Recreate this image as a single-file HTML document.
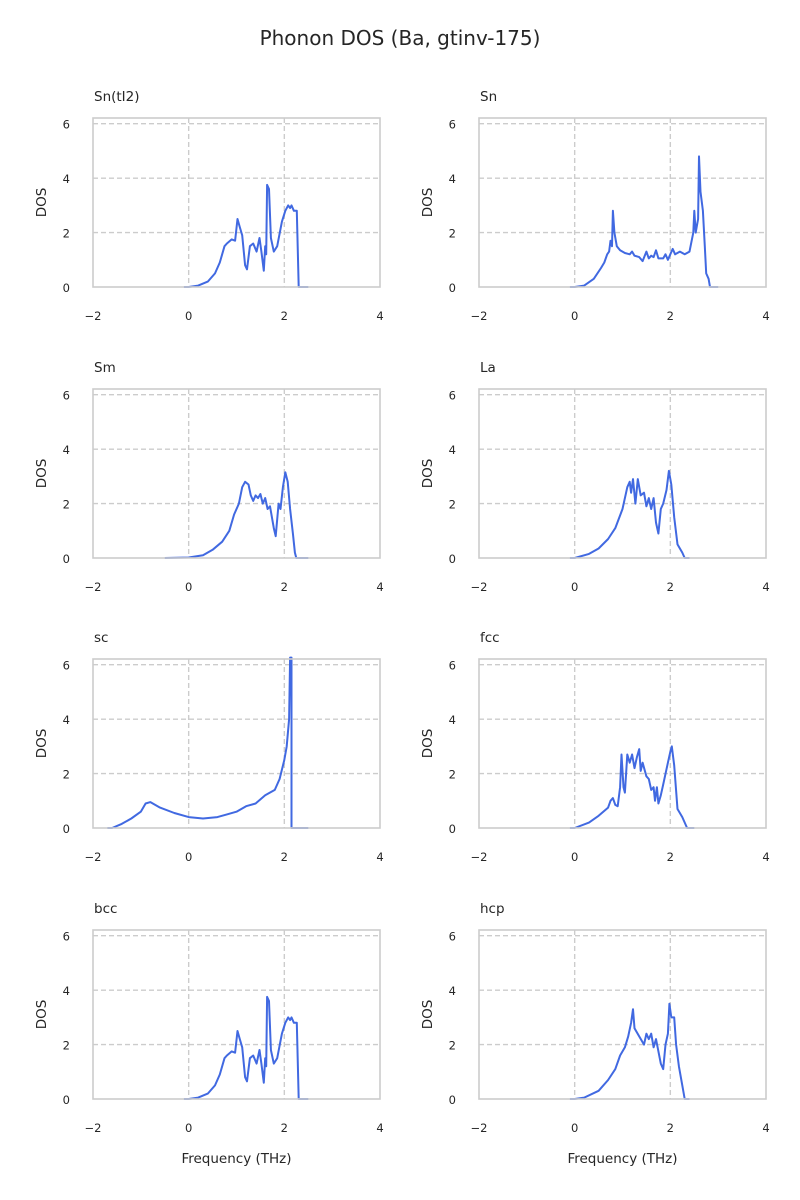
<!DOCTYPE html>
<html><head><meta charset="utf-8"><style>
body{margin:0;background:#fff;}
svg{display:block;font-family:"DejaVu Sans","Liberation Sans",sans-serif;}
</style></head><body>
<svg id="fig" width="800" height="1200" viewBox="0 0 800 1200" xmlns="http://www.w3.org/2000/svg">
<text x="400" y="45" text-anchor="middle" font-size="20" fill="#262626">Phonon DOS (Ba, gtinv-175)</text>
</svg>
<script>
const panelNames=["Sn(tI2)","Sn","Sm","La","sc","fcc","bcc","hcp"];
const xTicks=[-2,0,2,4];
const yTicks=[0,2,4,6];
const freqSnTI2=[-0.1,0,0.2,0.4,0.55,0.65,0.75,0.8,0.9,0.97,1.02,1.07,1.12,1.18,1.22,1.28,1.35,1.42,1.48,1.52,1.57,1.6,1.62,1.64,1.68,1.72,1.78,1.85,1.95,2.02,2.08,2.12,2.15,2.2,2.26,2.3,2.5];
const dosSnTI2=[0,0,0.05,0.2,0.5,0.9,1.5,1.6,1.75,1.7,2.5,2.2,1.9,0.8,0.65,1.5,1.6,1.3,1.8,1.3,0.6,1.5,1.2,3.75,3.6,1.8,1.3,1.5,2.4,2.8,3.0,2.9,3.0,2.8,2.8,0,0];
const freqSn=[-0.1,0,0.2,0.4,0.55,0.62,0.68,0.72,0.75,0.78,0.8,0.83,0.88,0.95,1.05,1.15,1.2,1.25,1.35,1.42,1.5,1.55,1.6,1.65,1.7,1.75,1.85,1.9,1.95,2.05,2.1,2.2,2.3,2.4,2.48,2.5,2.53,2.58,2.6,2.63,2.68,2.72,2.75,2.8,2.83,3.0];
const dosSn=[0,0,0.05,0.3,0.7,0.9,1.2,1.3,1.7,1.5,2.8,2.0,1.5,1.35,1.25,1.2,1.3,1.15,1.1,0.95,1.3,1.05,1.15,1.1,1.35,1.05,1.05,1.2,1.0,1.4,1.2,1.3,1.2,1.3,2.0,2.8,2.0,2.5,4.8,3.5,2.8,1.5,0.5,0.3,0,0];
const freqSm=[-0.5,0,0.3,0.5,0.7,0.85,0.95,1.05,1.12,1.18,1.25,1.3,1.35,1.4,1.45,1.5,1.55,1.6,1.65,1.7,1.78,1.82,1.88,1.92,1.97,2.02,2.07,2.12,2.18,2.22,2.25,2.5];
const dosSm=[0,0.02,0.1,0.3,0.6,1.0,1.6,2.0,2.6,2.8,2.7,2.3,2.1,2.3,2.2,2.35,2.0,2.2,1.8,1.9,1.1,0.8,2.0,1.8,2.6,3.15,2.8,1.8,0.9,0.2,0,0];
const freqLa=[-0.1,0,0.3,0.5,0.7,0.85,1.0,1.1,1.15,1.18,1.22,1.27,1.32,1.38,1.45,1.5,1.55,1.6,1.65,1.7,1.75,1.8,1.85,1.92,1.97,2.02,2.08,2.15,2.25,2.3,2.4];
const dosLa=[0,0,0.15,0.35,0.7,1.1,1.8,2.6,2.8,2.4,2.9,2.0,2.9,2.3,2.4,1.9,2.2,1.8,2.2,1.3,0.9,1.8,2.0,2.5,3.2,2.7,1.5,0.5,0.2,0,0];
const freqSc=[-1.7,-1.6,-1.4,-1.2,-1.0,-0.9,-0.8,-0.6,-0.3,0,0.3,0.6,0.8,1.0,1.2,1.4,1.6,1.8,1.9,2.0,2.05,2.1,2.12,2.15,2.15,2.5];
const dosSc=[0,0,0.15,0.35,0.6,0.9,0.95,0.75,0.55,0.4,0.35,0.4,0.5,0.6,0.8,0.9,1.2,1.4,1.8,2.5,3.0,4.0,6.3,6.3,0,0];
const freqFcc=[-0.1,0,0.3,0.5,0.7,0.75,0.8,0.85,0.9,0.95,0.98,1.02,1.05,1.1,1.15,1.2,1.25,1.3,1.35,1.38,1.42,1.5,1.55,1.6,1.65,1.68,1.72,1.75,1.8,1.85,1.95,2.0,2.03,2.08,2.15,2.25,2.35,2.5];
const dosFcc=[0,0,0.2,0.45,0.75,1.0,1.1,0.85,0.8,1.5,2.7,1.5,1.3,2.7,2.4,2.7,2.2,2.6,2.9,2.1,2.4,1.9,1.8,1.4,1.5,1.0,1.5,0.9,1.2,1.6,2.4,2.8,3.0,2.3,0.7,0.4,0,0];
const freqHcp=[-0.1,0,0.2,0.5,0.7,0.85,0.95,1.05,1.12,1.18,1.22,1.25,1.35,1.45,1.5,1.55,1.6,1.65,1.7,1.8,1.85,1.9,1.95,1.98,2.02,2.08,2.12,2.18,2.25,2.3,2.4];
const dosHcp=[0,0,0.05,0.3,0.7,1.1,1.6,1.9,2.3,2.8,3.3,2.6,2.3,2.0,2.4,2.2,2.4,1.9,2.2,1.3,1.1,2.0,2.4,3.5,3.0,3.0,2.0,1.2,0.5,0,0];
const panelFreqs=[freqSnTI2,freqSn,freqSm,freqLa,freqSc,freqFcc,freqSnTI2,freqHcp];
const panelDos=[dosSnTI2,dosSn,dosSm,dosLa,dosSc,dosFcc,dosSnTI2,dosHcp];

const NS="http://www.w3.org/2000/svg";
const svg=document.getElementById('fig');
function mk(tag,attrs,parent){const e=document.createElementNS(NS,tag);for(const k in attrs)e.setAttribute(k,attrs[k]);(parent||svg).appendChild(e);return e;}
const colX=[93,479], rowY=[118,389,659,930], W=287, H=169;
const xMin=-2,xMax=4,yMin=0,yMax=6.21;
panelNames.forEach((name,i)=>{
  const px=colX[i%2], py=rowY[Math.floor(i/2)];
  const sx=v=>px+(v-xMin)/(xMax-xMin)*W;
  const sy=v=>py+H-(v-yMin)/(yMax-yMin)*H;
  const g=mk('g',{});
  
  
  xTicks.forEach(t=>{ if(t>xMin&&t<xMax){const l=mk('line',{x1:sx(t),x2:sx(t),y1:py,y2:py+H,stroke:'#cccccc','stroke-width':1.4,'stroke-dasharray':'5,3'},g);}});
  yTicks.forEach(t=>{ if(t>yMin){const l=mk('line',{x1:px,x2:px+W,y1:sy(t),y2:sy(t),stroke:'#cccccc','stroke-width':1.4,'stroke-dasharray':'5,3'},g);}});
  const f=panelFreqs[i], d=panelDos[i];
  const pts=f.map((v,k)=>sx(v).toFixed(1)+','+sy(Math.min(d[k],yMax+0.05)).toFixed(1)).join(' ');
  const line=mk('polyline',{points:pts,fill:'none',stroke:'#4169e1','stroke-width':2,'stroke-linejoin':'round'},g);
  
  
  const fr=mk('rect',{x:px,y:py,width:W,height:H,fill:'none',stroke:'#cccccc','stroke-width':1.6},g);
  
  
  xTicks.forEach(t=>{const tx=mk('text',{x:sx(t),y:py+H+33,'text-anchor':'middle','font-size':11.5,fill:'#262626'},g);tx.textContent=(t<0?'\u2212'+(-t):t);});
  yTicks.forEach(t=>{const tx=mk('text',{x:px-23,y:sy(t)+5,'text-anchor':'end','font-size':11.5,fill:'#262626'},g);tx.textContent=t;});
  const yl=mk('text',{x:0,y:0,transform:`translate(${px-47},${py+H/2}) rotate(-90)`,'text-anchor':'middle','font-size':13.5,fill:'#262626'},g);
  yl.textContent='DOS';
  
  
  const tt=mk('text',{x:px+1,y:py-17,'font-size':13.5,fill:'#262626'},g);
  tt.textContent=name;
  
  
  if(i>=6){const xl=mk('text',{x:px+W/2,y:py+H+64,'text-anchor':'middle','font-size':13.5,fill:'#262626'},g);xl.textContent='Frequency (THz)';}
});
</script>
</body></html>
